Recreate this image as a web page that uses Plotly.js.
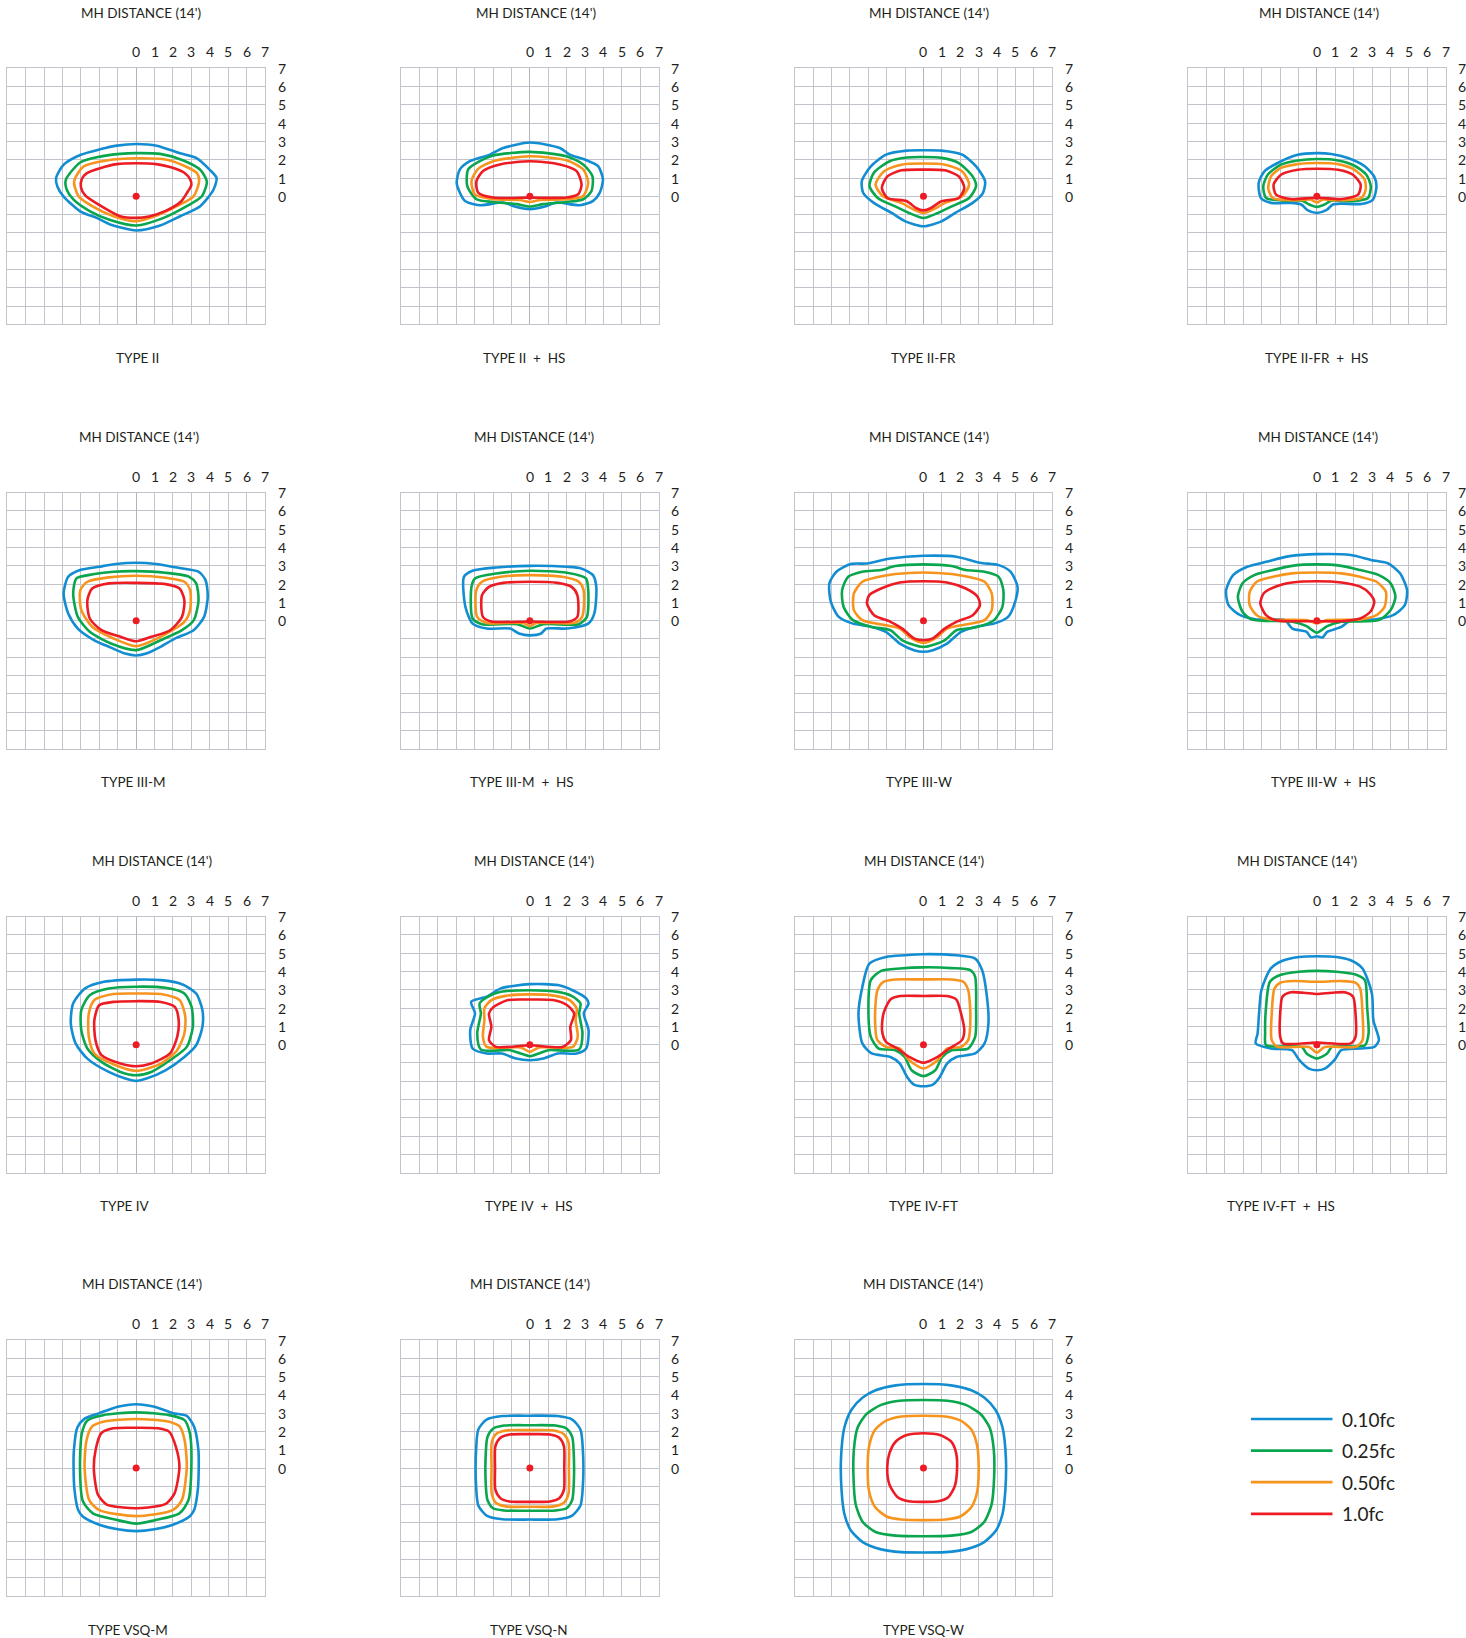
<!DOCTYPE html>
<html><head><meta charset="utf-8">
<script src="https://cdn.plot.ly/plotly-3.0.1.min.js"></script>
<style>html,body{margin:0;padding:0;background:#fff}#chart{width:1466px;height:1638px}</style>
</head><body><div id="chart"></div>
<script>
// ---------- DATA ----------
const levelNames = ['0.10fc', '0.25fc', '0.50fc', '1.0fc'];
const panelNames = ['TYPE II', 'TYPE II\u2002+\u2002HS', 'TYPE II-FR', 'TYPE II-FR\u2002+\u2002HS',
  'TYPE III-M', 'TYPE III-M\u2002+\u2002HS', 'TYPE III-W', 'TYPE III-W\u2002+\u2002HS',
  'TYPE IV', 'TYPE IV\u2002+\u2002HS', 'TYPE IV-FT', 'TYPE IV-FT\u2002+\u2002HS',
  'TYPE VSQ-M', 'TYPE VSQ-N', 'TYPE VSQ-W'];
const headerText = "MH DISTANCE (14')";
const tickLabels = ['0', '1', '2', '3', '4', '5', '6', '7'];
const tickValues = [0, 1, 2, 3, 4, 5, 6, 7];
const gridValues = [-7, -6, -5, -4, -3, -2, -1, 0, 1, 2, 3, 4, 5, 6, 7];
const luminaire = [[0, 0]];

// TYPE II
const II_010 = [[0,2.86],[1.12,2.77],[2.39,2.35],[3.3,2.08],[4.0,1.45],[4.37,1.0],[4.2,0.36],[3.48,-0.54],[2.39,-1.09],[1.3,-1.6],[0,-1.87],[-1.41,-1.54],[-2.14,-1.18],[-3.04,-0.82],[-3.95,0],[-4.28,0.54],[-4.35,1.0],[-3.95,1.72],[-3.04,2.26],[-1.96,2.57],[-1.05,2.77],[0,2.86]];
const II_025 = [[0,2.36],[1.3,2.32],[2.57,1.96],[3.48,1.45],[3.84,0.82],[3.57,0],[2.75,-0.54],[1.49,-1.18],[0,-1.6],[-1.41,-1.3],[-2.5,-0.82],[-3.4,-0.18],[-3.77,0.36],[-3.82,0.9],[-3.04,1.85],[-1.96,2.17],[-0.87,2.32],[0,2.36]];
const II_050 = [[0,2.08],[1.67,2.0],[2.75,1.6],[3.3,1.27],[3.42,0.82],[3.12,0],[2.21,-0.54],[1.12,-1.05],[0,-1.36],[-1.23,-1.09],[-2.32,-0.58],[-3.13,0],[-3.37,0.82],[-2.86,1.63],[-1.6,1.96],[0,2.08]];
const II_100 = [[0,1.81],[1.1,1.76],[1.84,1.6],[2.6,1.3],[2.95,0.9],[3.0,0.6],[2.8,0.25],[2.45,-0.27],[1.6,-0.8],[0.7,-1.1],[0,-1.18],[-0.87,-1.09],[-1.96,-0.5],[-2.77,0.05],[-3.0,0.5],[-2.95,0.95],[-2.68,1.27],[-1.96,1.54],[-1.05,1.76],[0,1.81]];
// TYPE II + HS
const IIHS_010 = [[0,2.94],[1.63,2.64],[2.17,2.28],[3.08,1.97],[3.71,1.65],[3.97,0.92],[3.8,0.2],[3.44,-0.25],[2.72,-0.49],[1.45,-0.34],[0.82,-0.56],[0,-0.7],[-0.82,-0.56],[-1.45,-0.34],[-2.72,-0.49],[-3.53,-0.25],[-3.97,0.7],[-3.8,1.47],[-3.26,1.92],[-2.17,2.28],[-1.45,2.64],[0,2.94]];
const IIHS_025 = [[0,2.43],[1.99,2.19],[2.9,1.74],[3.4,1.1],[3.35,0.29],[2.9,-0.16],[1.99,-0.31],[0.72,-0.43],[0,-0.56],[-0.72,-0.43],[-1.99,-0.31],[-2.9,-0.16],[-3.4,0.56],[-3.35,1.47],[-2.72,1.92],[-1.99,2.23],[0,2.43]];
const IIHS_050 = [[0,2.19],[1.99,1.97],[2.9,1.47],[3.17,0.74],[2.9,0.02],[1.99,-0.16],[0.54,-0.2],[0,-0.31],[-0.54,-0.2],[-1.99,-0.16],[-2.99,0.11],[-3.17,0.83],[-2.81,1.5],[-1.99,1.92],[0,2.19]];
const IIHS_100 = [[0,1.92],[1.63,1.74],[2.54,1.38],[2.81,0.65],[2.63,0.11],[1.99,-0.07],[0,-0.07],[-1.99,-0.07],[-2.81,0.2],[-2.9,0.83],[-2.54,1.38],[-1.63,1.74],[0,1.92]];
// TYPE II-FR
const IIFR_010 = [[0,2.52],[0.98,2.5],[2.1,2.28],[2.86,1.64],[3.35,0.82],[3.23,0.18],[2.67,-0.36],[1.73,-0.91],[0.98,-1.37],[0,-1.64],[-0.98,-1.37],[-1.73,-0.91],[-2.7,-0.36],[-3.27,0.18],[-3.35,0.82],[-2.86,1.64],[-2.03,2.28],[-0.9,2.5],[0,2.52]];
const IIFR_025 = [[0,2.15],[0.98,2.1],[1.92,1.82],[2.67,1.09],[2.86,0.55],[2.48,-0.09],[1.54,-0.55],[0.79,-0.91],[0,-1.19],[-0.79,-0.91],[-1.54,-0.55],[-2.48,-0.09],[-2.93,0.55],[-2.7,1.28],[-1.84,1.92],[-0.9,2.12],[0,2.15]];
const IIFR_050 = [[0,1.79],[1.17,1.73],[2.1,1.37],[2.48,0.64],[2.1,0],[1.17,-0.36],[0.6,-0.69],[0,-0.91],[-0.6,-0.69],[-1.2,-0.36],[-2.2,0],[-2.6,0.64],[-2.14,1.37],[-1.2,1.73],[0,1.79]];
const IIFR_100 = [[0,1.46],[1.17,1.42],[1.92,1.09],[2.22,0.46],[1.92,-0.09],[0.98,-0.27],[0.41,-0.64],[0,-0.77],[-0.41,-0.64],[-0.9,-0.27],[-1.96,-0.09],[-2.26,0.46],[-1.96,1.09],[-1.2,1.42],[0,1.46]];
// TYPE II-FR + HS
const IIFRHS_010 = [[0,2.36],[0.78,2.31],[1.69,2.09],[2.6,1.64],[3.11,1.09],[3.24,0.55],[3.05,-0.18],[2.42,-0.42],[1.33,-0.4],[0.87,-0.45],[0.51,-0.76],[0,-0.91],[-0.51,-0.76],[-0.85,-0.45],[-1.4,-0.36],[-2.49,-0.36],[-3.04,-0.09],[-3.16,0.73],[-2.85,1.36],[-2.13,1.82],[-1.04,2.27],[0,2.36]];
const IIFRHS_025 = [[0,2.04],[1.15,1.96],[2.05,1.67],[2.69,1.18],[2.93,0.55],[2.78,-0.09],[1.87,-0.27],[0.78,-0.24],[0.42,-0.45],[0,-0.58],[-0.42,-0.45],[-0.78,-0.24],[-1.76,-0.24],[-2.76,-0.09],[-2.91,0.55],[-2.67,1.18],[-1.95,1.73],[-1.04,1.96],[0,2.04]];
const IIFRHS_050 = [[0,1.82],[1.15,1.76],[2.05,1.45],[2.6,0.91],[2.65,0.36],[2.42,-0.09],[1.15,-0.22],[0.33,-0.18],[0,-0.33],[-0.33,-0.18],[-1.22,-0.22],[-2.4,-0.09],[-2.64,0.45],[-2.49,1.09],[-1.95,1.55],[-1.04,1.76],[0,1.82]];
const IIFRHS_100 = [[0,1.51],[1.15,1.45],[1.96,1.18],[2.38,0.64],[2.24,0.09],[1.33,-0.15],[0.33,-0.09],[0,-0.09],[-0.33,-0.09],[-1.4,-0.15],[-2.22,0.09],[-2.35,0.64],[-1.95,1.18],[-1.04,1.45],[0,1.51]];
// TYPE III-M
const IIIM_010 = [[0,3.17],[1.08,3.1],[2.1,2.92],[3.38,2.68],[3.77,2.22],[3.89,1.31],[3.69,0.21],[3.12,-0.52],[2.1,-0.98],[1.32,-1.43],[0.55,-1.8],[0,-1.9],[-0.6,-1.8],[-1.37,-1.47],[-2.27,-1.07],[-3.17,-0.43],[-3.69,0.39],[-3.94,1.49],[-3.69,2.4],[-3.05,2.77],[-2.02,2.95],[-1.1,3.1],[0,3.17]];
const IIIM_025 = [[0,2.71],[1.6,2.62],[2.88,2.4],[3.26,2.04],[3.39,1.12],[3.13,0.03],[2.49,-0.52],[1.32,-1.07],[0,-1.61],[-1.37,-1.25],[-2.52,-0.61],[-3.17,0.21],[-3.42,1.49],[-3.24,2.31],[-2.27,2.55],[-1.23,2.68],[0,2.71]];
const IIIM_050 = [[0,2.46],[1.6,2.35],[2.62,2.13],[2.93,1.67],[2.93,0.58],[2.62,-0.06],[1.32,-0.88],[0,-1.39],[-1.23,-0.97],[-2.39,-0.33],[-2.98,0.58],[-3.03,1.67],[-2.65,2.13],[-1.49,2.37],[0,2.46]];
const IIIM_100 = [[0,2.07],[1.6,2.0],[2.36,1.76],[2.62,1.12],[2.49,0.21],[1.85,-0.52],[0.82,-0.88],[0,-1.12],[-0.85,-0.88],[-1.88,-0.52],[-2.52,0.12],[-2.65,1.12],[-2.39,1.76],[-1.49,2.04],[0,2.07]];
// TYPE III-M + HS
const IIIMHS_010 = [[0,3.0],[2.02,2.95],[2.79,2.86],[3.43,2.49],[3.61,1.85],[3.5,0.39],[3.17,-0.16],[2.02,-0.43],[0.9,-0.43],[0.61,-0.7],[0,-0.8],[-0.59,-0.7],[-1.07,-0.43],[-2.34,-0.43],[-3.11,-0.16],[-3.5,0.75],[-3.58,2.4],[-3.11,2.73],[-1.82,2.91],[0,3.0]];
const IIIMHS_025 = [[0,2.73],[2.02,2.62],[3.05,2.31],[3.17,1.67],[3.1,0.21],[2.66,-0.19],[0.73,-0.19],[0,-0.43],[-0.68,-0.19],[-2.6,-0.19],[-3.11,0.12],[-3.17,1.85],[-2.98,2.31],[-1.82,2.58],[0,2.73]];
const IIIMHS_050 = [[0,2.49],[1.76,2.4],[2.66,2.13],[2.92,1.67],[2.84,0.21],[2.41,-0.12],[0.35,-0.12],[0,-0.3],[-0.37,-0.12],[-2.34,-0.12],[-2.86,0.21],[-2.91,1.67],[-2.6,2.13],[-1.58,2.4],[0,2.49]];
const IIIMHS_100 = [[0,2.13],[1.5,2.07],[2.27,1.85],[2.58,1.4],[2.58,0.21],[2.15,-0.04],[0,-0.04],[-2.09,-0.04],[-2.55,0.21],[-2.6,1.4],[-2.22,1.85],[-1.45,2.07],[0,2.13]];
// TYPE III-W
const IIIW_010 = [[0,3.55],[1.79,3.5],[3.07,3.17],[4.09,3.04],[4.73,2.68],[5.11,1.86],[4.98,1.03],[4.6,0.21],[3.83,-0.16],[2.81,-0.34],[2.04,-0.61],[1.28,-1.25],[0.51,-1.61],[0,-1.7],[-0.51,-1.61],[-1.28,-1.25],[-2.04,-0.61],[-2.81,-0.34],[-3.83,-0.16],[-4.6,0.21],[-5.03,1.03],[-5.11,2.04],[-4.73,2.68],[-3.96,3.1],[-3.07,3.13],[-1.79,3.4],[0,3.55]];
const IIIW_025 = [[0,3.08],[1.53,2.99],[2.3,2.77],[3.32,2.68],[4.09,2.4],[4.34,1.67],[4.29,0.76],[3.83,0.03],[2.81,-0.37],[1.79,-0.52],[1.15,-1.07],[0,-1.43],[-1.15,-1.07],[-1.79,-0.52],[-2.81,-0.34],[-3.83,0.03],[-4.34,0.76],[-4.42,1.67],[-4.09,2.4],[-3.32,2.68],[-2.3,2.77],[-1.53,2.99],[0,3.08]];
const IIIW_050 = [[0,2.64],[1.53,2.55],[2.55,2.37],[3.32,2.13],[3.71,1.49],[3.71,0.58],[3.32,0.03],[2.04,-0.25],[1.28,-0.43],[0.77,-0.88],[0,-1.21],[-0.77,-0.88],[-1.28,-0.43],[-2.04,-0.25],[-3.32,0.03],[-3.78,0.58],[-3.78,1.49],[-3.32,2.13],[-2.55,2.37],[-1.53,2.55],[0,2.64]];
const IIIW_100 = [[0,2.16],[1.28,2.09],[2.3,1.76],[2.94,1.31],[3.07,0.85],[2.68,0.3],[1.79,-0.06],[1.15,-0.43],[0.51,-0.97],[0,-1.07],[-0.51,-0.97],[-1.15,-0.43],[-1.79,-0.06],[-2.68,0.3],[-3.07,0.94],[-2.94,1.4],[-2.3,1.76],[-1.28,2.09],[0,2.16]];
// TYPE III-W + HS
const IIIWHS_010 = [[0,3.64],[1.84,3.59],[2.99,3.31],[3.88,3.13],[4.52,2.59],[4.9,1.67],[4.78,0.85],[4.14,0.3],[3.12,0.07],[1.84,0.03],[1.33,-0.34],[0.56,-0.61],[0.31,-0.92],[0,-0.85],[-0.31,-0.92],[-0.56,-0.61],[-1.33,-0.43],[-1.74,0.03],[-3.27,0.07],[-4.16,0.3],[-4.8,0.85],[-4.93,1.67],[-4.55,2.49],[-3.78,2.95],[-2.76,3.22],[-1.48,3.53],[0,3.64]];
const IIIWHS_025 = [[0,3.08],[1.33,3.0],[2.35,2.77],[3.37,2.49],[4.01,2.04],[4.27,1.31],[4.01,0.58],[3.37,0.03],[1.33,-0.06],[0.56,-0.3],[0,-0.66],[-0.56,-0.3],[-1.33,-0.06],[-3.53,0.07],[-4.04,0.49],[-4.29,1.31],[-4.04,2.04],[-3.4,2.49],[-2.38,2.77],[-1.35,3.0],[0,3.08]];
const IIIWHS_050 = [[0,2.64],[1.33,2.59],[2.35,2.4],[3.24,2.13],[3.75,1.58],[3.68,0.76],[3.24,0.3],[2.35,0.07],[0.56,0.03],[0,-0.15],[-0.56,0.03],[-2.5,0.07],[-3.27,0.3],[-3.65,0.85],[-3.65,1.58],[-3.27,2.13],[-2.38,2.4],[-1.35,2.59],[0,2.64]];
const IIIWHS_100 = [[0,2.16],[1.33,2.09],[2.35,1.86],[2.86,1.49],[3.12,1.03],[2.91,0.49],[2.35,0.12],[1.33,-0.03],[0,-0.03],[-1.33,-0.03],[-2.25,0.03],[-2.76,0.3],[-3.07,0.94],[-2.89,1.49],[-2.25,1.86],[-1.35,2.09],[0,2.16]];
// TYPE IV
const IV_010 = [[0,3.56],[1.34,3.53],[2.49,3.31],[3.26,2.8],[3.6,1.89],[3.6,0.98],[3.26,-0.03],[2.62,-0.67],[1.59,-1.4],[0.56,-1.85],[0,-1.98],[-0.59,-1.85],[-1.49,-1.49],[-2.65,-0.76],[-3.29,0.07],[-3.55,1.16],[-3.42,2.26],[-2.77,3.08],[-1.75,3.44],[0,3.56]];
const IV_025 = [[0,3.17],[1.59,3.11],[2.62,2.8],[3.01,2.07],[3.08,0.98],[2.75,-0.12],[1.84,-0.85],[0.82,-1.49],[0,-1.67],[-0.85,-1.49],[-1.88,-0.94],[-2.65,-0.21],[-2.98,0.79],[-2.98,1.89],[-2.52,2.71],[-1.49,3.07],[0,3.17]];
const IV_050 = [[0,2.8],[1.34,2.77],[2.36,2.44],[2.67,1.53],[2.62,0.61],[2.23,-0.3],[1.34,-1.03],[0,-1.43],[-1.24,-1.07],[-2.27,-0.48],[-2.57,0.43],[-2.57,1.71],[-2.27,2.44],[-1.24,2.77],[0,2.8]];
const IV_100 = [[0,2.38],[1.34,2.34],[2.1,2.07],[2.31,1.34],[2.23,0.43],[1.84,-0.48],[0.82,-1.03],[0,-1.18],[-0.85,-1.03],[-1.88,-0.57],[-2.21,0.25],[-2.27,1.34],[-2.01,2.16],[-1.24,2.34],[0,2.38]];
// TYPE IV + HS
const IVHS_010 = [[0,3.31],[1.52,3.26],[2.29,2.99],[3.06,2.53],[3.19,2.26],[2.93,1.71],[3.19,0.79],[3.06,-0.21],[2.54,-0.48],[1.52,-0.48],[0.73,-0.76],[0,-0.85],[-0.75,-0.76],[-1.52,-0.48],[-2.35,-0.48],[-3.11,-0.21],[-3.24,0.79],[-2.98,1.71],[-3.19,2.35],[-2.35,2.62],[-1.58,3.08],[0,3.31]];
const IVHS_025 = [[0,2.98],[1.52,2.89],[2.29,2.66],[2.75,2.26],[2.68,1.71],[2.86,0.61],[2.68,-0.26],[1.0,-0.3],[0.48,-0.48],[0,-0.63],[-0.5,-0.48],[-1.07,-0.3],[-2.66,-0.26],[-2.86,0.61],[-2.66,1.71],[-2.73,2.26],[-2.22,2.66],[-1.58,2.89],[0,2.98]];
const IVHS_050 = [[0,2.75],[1.39,2.67],[2.16,2.44],[2.54,1.99],[2.49,1.34],[2.6,0.43],[2.34,-0.12],[0.49,-0.15],[0,-0.39],[-0.49,-0.15],[-2.35,-0.12],[-2.55,0.43],[-2.47,1.34],[-2.47,1.99],[-2.09,2.44],[-1.32,2.67],[0,2.75]];
const IVHS_100 = [[0,2.47],[1.26,2.44],[2.03,2.16],[2.41,1.71],[2.2,0.98],[2.23,0.25],[1.77,-0.12],[0,-0.03],[-1.84,-0.12],[-2.22,0.25],[-2.09,0.98],[-2.22,1.71],[-1.96,2.07],[-1.19,2.44],[0,2.47]];
// TYPE IV-FT
const IVFT_010 = [[0,4.95],[1.79,4.89],[2.81,4.71],[3.19,4.07],[3.45,2.61],[3.53,1.16],[3.32,0.07],[2.81,-0.48],[1.79,-0.67],[1.28,-1.03],[0.89,-1.76],[0.51,-2.18],[0,-2.27],[-0.51,-2.18],[-0.89,-1.76],[-1.28,-1.03],[-1.79,-0.67],[-2.81,-0.48],[-3.32,0.07],[-3.53,1.71],[-3.32,3.16],[-2.94,4.44],[-2.04,4.8],[-1.02,4.89],[0,4.95]];
const IVFT_025 = [[0,4.23],[1.53,4.19],[2.55,4.08],[2.81,3.71],[2.86,2.07],[2.81,0.43],[2.43,-0.21],[1.53,-0.3],[1.02,-0.67],[0.64,-1.4],[0,-1.72],[-0.64,-1.4],[-1.02,-0.67],[-1.53,-0.3],[-2.43,-0.21],[-2.86,0.43],[-2.99,2.07],[-2.86,3.53],[-2.3,4.04],[-1.28,4.17],[0,4.23]];
const IVFT_050 = [[0,3.57],[1.53,3.57],[2.17,3.44],[2.43,2.98],[2.55,1.52],[2.43,0.25],[2.04,-0.12],[1.28,-0.21],[0.77,-0.85],[0,-1.3],[-0.77,-0.85],[-1.28,-0.21],[-2.04,-0.12],[-2.5,0.25],[-2.63,1.52],[-2.5,2.98],[-2.17,3.44],[-1.53,3.57],[0,3.57]];
const IVFT_100 = [[0,2.66],[1.28,2.66],[1.79,2.47],[2.04,1.71],[2.22,0.79],[2.09,0.25],[1.41,-0.21],[0.77,-0.67],[0,-0.99],[-0.77,-0.67],[-1.41,-0.21],[-2.04,0.16],[-2.25,0.79],[-2.17,1.71],[-1.79,2.47],[-1.28,2.66],[0,2.66]];
// TYPE IV-FT + HS
const IVFTHS_010 = [[0,4.84],[1.07,4.8],[1.84,4.62],[2.48,4.17],[2.99,2.8],[3.07,1.34],[3.37,0.25],[3.12,-0.12],[2.35,-0.21],[1.33,-0.3],[0.95,-0.85],[0.43,-1.31],[0,-1.4],[-0.43,-1.31],[-0.95,-0.85],[-1.35,-0.3],[-2.5,-0.21],[-3.32,0.07],[-3.22,0.61],[-3.14,1.71],[-3.01,2.99],[-2.5,4.17],[-1.87,4.59],[-0.97,4.8],[0,4.84]];
const IVFTHS_025 = [[0,4.04],[1.07,3.99],[2.1,3.84],[2.61,3.53],[2.73,2.07],[2.81,0.61],[2.61,-0.03],[0.82,-0.12],[0.56,-0.48],[0,-0.76],[-0.56,-0.48],[-0.82,-0.12],[-2.76,-0.03],[-2.81,0.61],[-2.76,2.07],[-2.55,3.44],[-1.99,3.81],[-0.97,3.99],[0,4.04]];
const IVFTHS_050 = [[0,3.44],[1.33,3.48],[2.1,3.39],[2.35,3.08],[2.48,1.71],[2.48,0.25],[2.1,-0.12],[0.43,-0.12],[0,-0.43],[-0.43,-0.12],[-2.12,-0.12],[-2.45,0.25],[-2.45,1.71],[-2.3,3.08],[-1.99,3.39],[-1.23,3.48],[0,3.44]];
const IVFTHS_100 = [[0,2.77],[0.82,2.84],[1.58,2.86],[1.97,2.62],[2.1,1.71],[2.1,0.43],[1.84,0.07],[0,0.12],[-1.84,0.07],[-1.99,0.43],[-1.99,1.71],[-1.87,2.62],[-1.48,2.86],[-0.72,2.84],[0,2.77]];
// TYPE VSQ-M
const VSQM_010 = [[0,3.49],[1.0,3.35],[2.0,3.0],[2.75,2.85],[3.15,2.25],[3.38,1.0],[3.4,0],[3.35,-1.2],[3.15,-2.3],[2.9,-2.65],[2.0,-3.1],[1.0,-3.35],[0,-3.45],[-1.0,-3.35],[-2.0,-3.1],[-2.9,-2.65],[-3.15,-2.3],[-3.35,-1.2],[-3.4,0],[-3.38,1.0],[-3.2,2.2],[-2.8,2.7],[-2.0,3.0],[-1.0,3.35],[0,3.49]];
const VSQM_025 = [[0,3.04],[1.79,2.89],[2.63,2.62],[2.92,1.89],[3.0,0.07],[2.84,-1.76],[2.35,-2.48],[1.03,-2.85],[0,-3.04],[-1.0,-2.85],[-2.35,-2.48],[-2.9,-1.8],[-3.05,0],[-2.95,1.9],[-2.65,2.6],[-1.8,2.89],[0,3.04]];
const VSQM_050 = [[0,2.68],[1.79,2.53],[2.37,2.26],[2.63,1.53],[2.75,0.07],[2.48,-1.76],[1.98,-2.3],[0,-2.63],[-2.0,-2.3],[-2.55,-1.76],[-2.8,0],[-2.7,1.5],[-2.4,2.26],[-1.8,2.53],[0,2.68]];
const VSQM_100 = [[0,2.2],[1.2,2.17],[1.79,1.99],[2.16,1.16],[2.35,0.07],[2.08,-1.4],[1.58,-1.98],[0.63,-2.16],[0,-2.2],[-0.7,-2.16],[-1.6,-2.0],[-2.08,-1.45],[-2.3,0],[-2.2,1.0],[-1.9,1.9],[-1.25,2.17],[0,2.2]];
// TYPE VSQ-N
const VSQN_010 = [[0,2.86],[1.5,2.84],[2.3,2.65],[2.75,2.1],[2.88,1.0],[2.88,-1.0],[2.75,-2.05],[2.3,-2.6],[1.5,-2.8],[0,-2.82],[-1.5,-2.8],[-2.35,-2.6],[-2.8,-2.05],[-2.92,-1.0],[-2.92,1.0],[-2.8,2.1],[-2.35,2.65],[-1.5,2.84],[0,2.86]];
const VSQN_025 = [[0,2.34],[1.4,2.32],[2.0,2.15],[2.3,1.7],[2.38,0.9],[2.38,-1.0],[2.3,-1.75],[2.0,-2.2],[1.4,-2.32],[0,-2.34],[-1.4,-2.32],[-2.0,-2.2],[-2.3,-1.75],[-2.39,-1.0],[-2.39,0.9],[-2.3,1.7],[-2.0,2.15],[-1.4,2.32],[0,2.34]];
const VSQN_050 = [[0,2.07],[1.3,2.05],[1.85,1.85],[2.1,1.4],[2.12,0],[2.1,-1.4],[1.85,-1.9],[1.3,-2.1],[0,-2.12],[-1.3,-2.1],[-1.85,-1.9],[-2.07,-1.4],[-2.08,0],[-2.07,1.4],[-1.85,1.85],[-1.3,2.05],[0,2.07]];
const VSQN_100 = [[0,1.85],[1.1,1.83],[1.6,1.65],[1.85,1.2],[1.87,0],[1.85,-1.2],[1.6,-1.65],[1.1,-1.83],[0,-1.85],[-1.1,-1.83],[-1.6,-1.65],[-1.87,-1.2],[-1.89,0],[-1.87,1.2],[-1.6,1.65],[-1.1,1.83],[0,1.85]];
// TYPE VSQ-W
const VSQW_010 = [[0,4.59],[1.5,4.52],[2.6,4.25],[3.3,3.85],[3.9,3.2],[4.3,2.2],[4.48,0.5],[4.45,-1.2],[4.3,-2.5],[3.95,-3.4],[3.3,-4.05],[2.3,-4.45],[1.2,-4.6],[0,-4.62],[-1.2,-4.6],[-2.3,-4.45],[-3.3,-4.05],[-3.95,-3.4],[-4.3,-2.5],[-4.45,-1.2],[-4.48,0.5],[-4.3,2.2],[-3.9,3.2],[-3.3,3.85],[-2.6,4.25],[-1.5,4.52],[0,4.59]];
const VSQW_025 = [[0,3.72],[1.3,3.68],[2.3,3.45],[3.1,2.95],[3.6,2.2],[3.82,1.0],[3.84,-0.5],[3.7,-2.0],[3.3,-2.95],[2.6,-3.5],[1.5,-3.7],[0,-3.73],[-1.5,-3.7],[-2.6,-3.5],[-3.3,-2.95],[-3.68,-2.0],[-3.8,-0.5],[-3.78,1.0],[-3.58,2.2],[-3.1,2.95],[-2.3,3.45],[-1.3,3.68],[0,3.72]];
const VSQW_050 = [[0,2.86],[1.2,2.82],[2.0,2.6],[2.6,2.1],[2.92,1.2],[3.0,0],[2.92,-1.3],[2.6,-2.15],[2.0,-2.65],[1.2,-2.82],[0,-2.85],[-1.2,-2.82],[-2.0,-2.65],[-2.62,-2.15],[-2.95,-1.3],[-3.03,0],[-2.95,1.2],[-2.62,2.1],[-2.0,2.6],[-1.2,2.82],[0,2.86]];
const VSQW_100 = [[0,1.9],[0.9,1.8],[1.5,1.45],[1.78,0.8],[1.82,-0.2],[1.7,-1.0],[1.35,-1.6],[0.8,-1.82],[0,-1.85],[-0.8,-1.82],[-1.4,-1.6],[-1.85,-0.9],[-1.97,0],[-1.85,0.8],[-1.5,1.45],[-0.9,1.8],[0,1.9]];

const panelContours = [
  [II_010, II_025, II_050, II_100],
  [IIHS_010, IIHS_025, IIHS_050, IIHS_100],
  [IIFR_010, IIFR_025, IIFR_050, IIFR_100],
  [IIFRHS_010, IIFRHS_025, IIFRHS_050, IIFRHS_100],
  [IIIM_010, IIIM_025, IIIM_050, IIIM_100],
  [IIIMHS_010, IIIMHS_025, IIIMHS_050, IIIMHS_100],
  [IIIW_010, IIIW_025, IIIW_050, IIIW_100],
  [IIIWHS_010, IIIWHS_025, IIIWHS_050, IIIWHS_100],
  [IV_010, IV_025, IV_050, IV_100],
  [IVHS_010, IVHS_025, IVHS_050, IVHS_100],
  [IVFT_010, IVFT_025, IVFT_050, IVFT_100],
  [IVFTHS_010, IVFTHS_025, IVFTHS_050, IVFTHS_100],
  [VSQM_010, VSQM_025, VSQM_050, VSQM_100],
  [VSQN_010, VSQN_025, VSQN_050, VSQN_100],
  [VSQW_010, VSQW_025, VSQW_050, VSQW_100]
];
const legendLevels = [3, 2, 1, 0];

// ---------- LAYOUT / STYLE ----------
const PW = 1466, PH = 1638;
const GW = 257.7, GH = 256;
const colX = [7.3, 401, 794.6, 1188];
const rowY = [68.3, 492.7, 916.7, 1340];
const headerX = [141, 536, 929, 1319, 139, 534, 929, 1318, 152, 534, 924, 1297, 142, 530, 923];
const headerY = [13.5, 437, 861, 1284];
const nameX = [137, 524, 923, 1316, 133, 522, 919, 1323, 125, 529, 924, 1281, 128, 529, 923];
const nameY = [358, 782, 1206, 1630];
const colors = ['#138dd2', '#0aa64e', '#f7941e', '#ed1c24'];
const gridColor = '#c2c3cb';
const textColor = '#231f20';
const FONT = 'Lato, "Open Sans", sans-serif';

const px = v => v / PW;
const py = v => 1 - v / PH;

const traces = [];
const annotations = [];
const layout = {
  width: PW, height: PH,
  margin: {l: 0, r: 0, t: 0, b: 0},
  paper_bgcolor: '#ffffff', plot_bgcolor: '#ffffff',
  showlegend: false,
  font: {family: FONT, color: textColor, size: 14},
  annotations: annotations
};

panelContours.forEach((contours, i) => {
  const n = i + 1;
  const xid = n === 1 ? 'x' : 'x' + n;
  const yid = n === 1 ? 'y' : 'y' + n;
  const row = Math.floor(i / 4), col = i % 4;
  const x0 = colX[col], y0 = rowY[row];
  const axBase = {
    range: [-7, 7], tickmode: 'array', tickvals: gridValues, showticklabels: false, ticks: '',
    showgrid: true, gridcolor: gridColor, gridwidth: 1,
    showline: true, mirror: true, linecolor: gridColor, linewidth: 1,
    fixedrange: true
  };
  layout[n === 1 ? 'xaxis' : 'xaxis' + n] = Object.assign({}, axBase, {
    domain: [px(x0), px(x0 + GW)], anchor: yid,
    zeroline: true, zerolinecolor: '#b2b4bc', zerolinewidth: 1.3
  });
  layout[n === 1 ? 'yaxis' : 'yaxis' + n] = Object.assign({}, axBase, {
    domain: [py(y0 + GH), py(y0)], anchor: xid,
    zeroline: true, zerolinecolor: gridColor, zerolinewidth: 1
  });

  contours.forEach((pts, k) => {
    traces.push({
      type: 'scatter', mode: 'lines', xaxis: xid, yaxis: yid,
      x: pts.map(p => p[0]), y: pts.map(p => p[1]),
      line: {color: colors[k], width: 2.6, shape: 'spline', smoothing: 0.7},
      name: levelNames[k], hoverinfo: 'skip', showlegend: false
    });
  });
  traces.push({
    type: 'scatter', mode: 'markers', xaxis: xid, yaxis: yid,
    x: luminaire.map(p => p[0]), y: luminaire.map(p => p[1]),
    marker: {color: colors[3], size: 7}, hoverinfo: 'skip', showlegend: false
  });

  tickValues.forEach((v, j) => {
    annotations.push({xref: xid, yref: yid + ' domain', x: v, y: 1, yshift: 16.5,
      text: tickLabels[j], showarrow: false, xanchor: 'center', yanchor: 'middle',
      font: {size: 14, color: textColor, family: FONT}});
    annotations.push({xref: xid + ' domain', yref: yid, x: 1, xshift: 16.5, y: v,
      text: tickLabels[j], showarrow: false, xanchor: 'center', yanchor: 'middle',
      font: {size: 14, color: textColor, family: FONT}});
  });
  annotations.push({xref: 'paper', yref: 'paper', x: px(headerX[i]), y: py(headerY[row]),
    text: headerText, showarrow: false, xanchor: 'center', yanchor: 'middle',
    font: {size: 13.5, color: textColor, family: FONT}});
  annotations.push({xref: 'paper', yref: 'paper', x: px(nameX[i]), y: py(nameY[row]),
    text: panelNames[i], showarrow: false, xanchor: 'center', yanchor: 'middle',
    font: {size: 13.5, color: textColor, family: FONT}});
});

// legend as its own small subplot
const LX0 = 1250.7, LX1 = 1332.7, LTOP = 1419, LBOT = 1513.8;
const unit = (LBOT - LTOP) / 3;
layout.xaxis16 = {domain: [px(LX0), px(LX1)], range: [0, 1], visible: false, fixedrange: true, anchor: 'y16'};
layout.yaxis16 = {domain: [py(LBOT + unit / 2), py(LTOP - unit / 2)], range: [-0.5, 3.5], visible: false, fixedrange: true, anchor: 'x16'};
levelNames.forEach((name, k) => {
  traces.push({
    type: 'scatter', mode: 'lines', xaxis: 'x16', yaxis: 'y16',
    x: [0, 1], y: [legendLevels[k], legendLevels[k]],
    line: {color: colors[k], width: 2.7}, name: name, hoverinfo: 'skip', showlegend: false
  });
  annotations.push({xref: 'paper', yref: 'y16', x: px(1340), y: legendLevels[k],
    text: name, showarrow: false, xanchor: 'left', yanchor: 'middle',
    font: {size: 19, color: textColor, family: FONT}});
});

Plotly.newPlot('chart', traces, layout, {staticPlot: true, displayModeBar: false});
</script>
</body></html>
